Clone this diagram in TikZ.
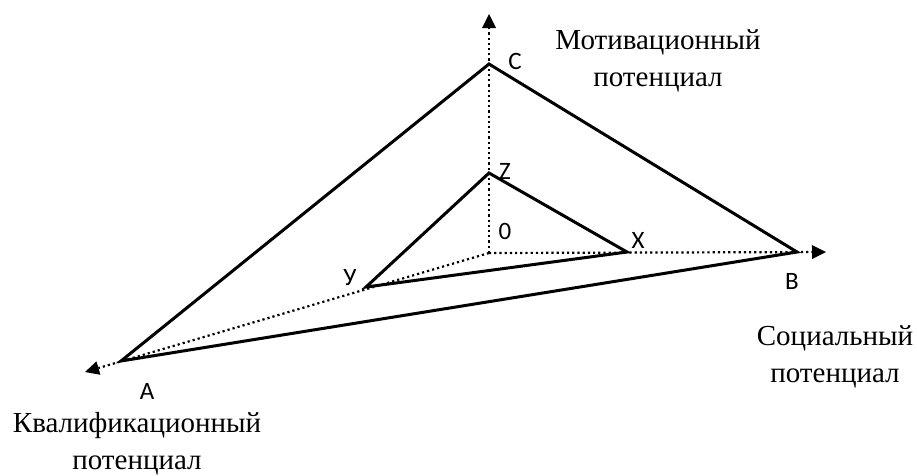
\documentclass[tikz,border=0pt]{standalone}
\usepackage{fontspec}
\setmainfont{Liberation Serif}
\newfontfamily\lblfont{Carlito}
\usetikzlibrary{arrows.meta}
\begin{document}
\begin{tikzpicture}[x=1pt,y=-1pt,
  axisline/.style={line width=2.2pt, dash pattern=on 2.2pt off 3pt, -{Triangle[length=14pt,width=14pt,line width=0pt]}},
  edge/.style={line width=3pt, line join=miter},
  ptlabel/.style={font=\lblfont\fontsize{25}{25}\selectfont, inner sep=0pt},
  axislabel/.style={font=\fontsize{29}{37}\selectfont, align=center, inner sep=0pt, anchor=base}]
\useasboundingbox (0,0) rectangle (917,475);
\coordinate (O) at (489,253);
\coordinate (tipU) at (489,14);
\coordinate (tipR) at (826,252);
\coordinate (tipL) at (85,372);
\coordinate (C) at (489,64);
\coordinate (Z) at (489,173);
\coordinate (X) at (627,252);
\coordinate (B) at (797,252);
\coordinate (Y) at (366,287);
\coordinate (A) at (121,361);
% axes
\draw[axisline] (O) -- (tipU);
\draw[axisline] (O) -- (tipR);
\draw[axisline] (O) -- (tipL);
% triangles
\draw[edge] (A) -- (C) -- (B) -- cycle;
\draw[edge] (Y) -- (Z) -- (X) -- cycle;
% point labels
\node[ptlabel] (lC) at (515,61) {C};
\node[ptlabel] (lZ) at (505,171) {Z};
\node[ptlabel] (l0) at (505,231) {0};
\node[ptlabel] (lX) at (638,240) {X};
\node[ptlabel] (lY) at (350,278) {У};
\node[ptlabel] (lB) at (792,281) {B};
\node[ptlabel] (lA) at (147,391) {A};
% axis labels
\node[axislabel] (mot) at (658,86) {Мотивационный\\потенциал};
\node[axislabel] (soc) at (835,382) {Социальный\\потенциал};
\node[axislabel] (kva) at (137,469) {Квалификационный\\потенциал};
\end{tikzpicture}
\end{document}
